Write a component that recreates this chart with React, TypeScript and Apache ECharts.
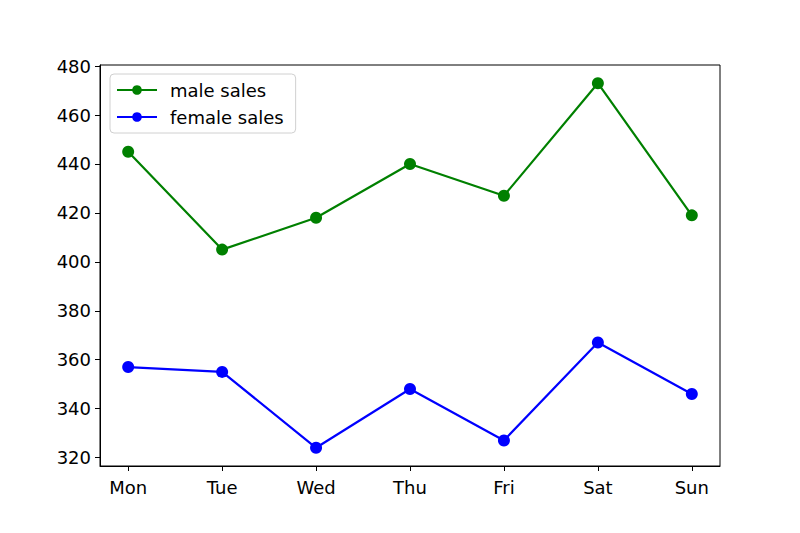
import React, { useEffect, useRef } from "react";
import * as echarts from "echarts";

const days = ["Mon", "Tue", "Wed", "Thu", "Fri", "Sat", "Sun"];
const maleSales = [445, 405, 418, 440, 427, 473, 419];
const femaleSales = [357, 355, 324, 348, 327, 367, 346];
const yTicks = [320, 340, 360, 380, 400, 420, 440, 460, 480];

export default function App() {
  const ref = useRef<HTMLDivElement>(null);
  useEffect(() => {
    const chart = echarts.init(ref.current!, null, { renderer: "svg" });
    const font = "DejaVu Sans";
    const all = [...maleSales, ...femaleSales];
    const lo = Math.min(...all);
    const hi = Math.max(...all);
    const pad = (hi - lo) * 0.05;
    const xIdx = days.map((_, i) => i);
    chart.setOption({
      animation: false,
      backgroundColor: "#ffffff",
      textStyle: { fontFamily: font },
      grid: {
        left: 100,
        right: 80,
        top: 65,
        bottom: 67,
        show: true,
        borderColor: "#000",
        borderWidth: 1,
        backgroundColor: "transparent",
      },
      legend: {
        orient: "vertical",
        left: 110,
        top: 74,
        itemWidth: 40,
        itemHeight: 12,
        itemGap: 9,
        padding: [7, 12, 7, 6],
        borderColor: "#d0d0d0",
        borderWidth: 1,
        borderRadius: 4,
        backgroundColor: "rgba(255,255,255,0.8)",
        textStyle: { fontFamily: font, fontSize: 18, color: "#000", padding: [0, 0, 0, 8] },
        data: ["male sales", "female sales"],
      },
      xAxis: {
        type: "value",
        min: -0.3,
        max: days.length - 1 + 0.3,
        splitLine: { show: false },
        axisLine: { show: true, onZero: false, lineStyle: { color: "#000" } },
        axisTick: {
          show: true,
          inside: false,
          length: 5,
          lineStyle: { color: "#000" },
          customValues: xIdx,
        },
        axisLabel: {
          color: "#000",
          fontSize: 18,
          fontFamily: font,
          margin: 12,
          customValues: xIdx,
          formatter: (v: number) => days[Math.round(v)] ?? "",
        },
      },
      yAxis: {
        type: "value",
        min: lo - pad,
        max: hi + pad,
        splitLine: { show: false },
        axisLine: { show: true, onZero: false, lineStyle: { color: "#000" } },
        axisTick: {
          show: true,
          inside: false,
          length: 5,
          lineStyle: { color: "#000" },
          customValues: yTicks,
        },
        axisLabel: {
          color: "#000",
          fontSize: 18,
          fontFamily: font,
          margin: 9,
          customValues: yTicks,
        },
      },
      series: [
        {
          name: "male sales",
          type: "line",
          data: maleSales.map((v, i) => [i, v]),
          symbol: "circle",
          symbolSize: 12,
          lineStyle: { color: "#008000", width: 2.2 },
          itemStyle: { color: "#008000" },
        },
        {
          name: "female sales",
          type: "line",
          data: femaleSales.map((v, i) => [i, v]),
          symbol: "circle",
          symbolSize: 12,
          lineStyle: { color: "#0000ff", width: 2.2 },
          itemStyle: { color: "#0000ff" },
        },
      ],
    });
    return () => chart.dispose();
  }, []);
  return (
    <div
      ref={ref}
      style={{ position: "absolute", left: 0, top: 0, width: 800, height: 533 }}
    />
  );
}
